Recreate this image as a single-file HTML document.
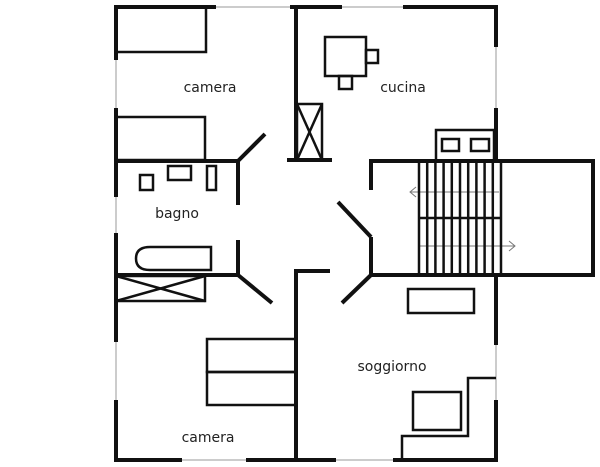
<!DOCTYPE html>
<html><head><style>body{margin:0;background:#fff}svg{display:block}text{font-family:"DejaVu Sans","Liberation Sans",sans-serif;font-size:14px;fill:#222}</style></head><body>
<svg width="600" height="467" viewBox="0 0 600 467">
<g stroke="#999" stroke-width="1" fill="none">
<line x1="216" y1="7" x2="290" y2="7"/><line x1="342" y1="7" x2="403" y2="7"/>
<line x1="496" y1="47" x2="496" y2="108"/><line x1="116" y1="60" x2="116" y2="108"/>
<line x1="116" y1="197" x2="116" y2="233"/><line x1="116" y1="342" x2="116" y2="400"/>
<line x1="182" y1="460" x2="246" y2="460"/><line x1="336" y1="460" x2="393" y2="460"/>
<line x1="496" y1="345" x2="496" y2="400"/>
</g>
<g stroke="#777" stroke-width="1" fill="none">
<line x1="410" y1="192" x2="499" y2="192"/><polyline points="416,187 410,192 416,197"/>
<line x1="419" y1="246" x2="515" y2="246"/><polyline points="509,241 515,246 509,251"/>
</g>
<g stroke="#111" stroke-width="4" fill="none" stroke-linecap="butt">
<line x1="114" y1="7" x2="216" y2="7"/><line x1="290" y1="7" x2="342" y2="7"/><line x1="403" y1="7" x2="498" y2="7"/>
<line x1="496" y1="5" x2="496" y2="47"/><line x1="496" y1="108" x2="496" y2="161"/>
<line x1="116" y1="5" x2="116" y2="60"/><line x1="116" y1="108" x2="116" y2="197"/><line x1="116" y1="233" x2="116" y2="342"/><line x1="116" y1="400" x2="116" y2="462"/>
<line x1="114" y1="460" x2="182" y2="460"/><line x1="246" y1="460" x2="336" y2="460"/><line x1="393" y1="460" x2="498" y2="460"/>
<line x1="496" y1="275" x2="496" y2="345"/><line x1="496" y1="400" x2="496" y2="462"/>
<line x1="116" y1="161" x2="238" y2="161"/><line x1="238" y1="161" x2="265" y2="134"/><line x1="238" y1="161" x2="238" y2="205"/>
<line x1="238" y1="240" x2="238" y2="275"/><line x1="116" y1="275" x2="238" y2="275"/><line x1="238" y1="275" x2="272" y2="303"/>
<line x1="296" y1="7" x2="296" y2="160"/><line x1="287" y1="160" x2="332" y2="160"/>
<line x1="296" y1="271" x2="296" y2="460"/><line x1="294" y1="271" x2="330" y2="271"/>
<line x1="371" y1="161" x2="371" y2="190"/><line x1="338" y1="202" x2="371" y2="237"/><line x1="371" y1="237" x2="371" y2="275"/><line x1="371" y1="275" x2="342" y2="303"/>
<polyline points="369,161 593,161 593,275 369,275"/>
</g>
<g stroke="#111" stroke-width="2.5" fill="none">
<rect x="116" y="7" width="90" height="45"/><rect x="116" y="117" width="89" height="43"/>
<rect x="140" y="175" width="13" height="15"/><rect x="168" y="166" width="23" height="14"/><rect x="207" y="166" width="9" height="24"/>
<path d="M150,247 H211 V270 H150 Q136,270 136,258.5 Q136,247 150,247 Z"/>
<rect x="116" y="276" width="89" height="25"/><line x1="116" y1="276" x2="205" y2="301"/><line x1="116" y1="301" x2="205" y2="276"/>
<rect x="297" y="104" width="25" height="56"/><line x1="297" y1="104" x2="322" y2="160"/><line x1="322" y1="104" x2="297" y2="160"/>
<rect x="325" y="37" width="41" height="39"/><rect x="366" y="50" width="12" height="13"/><rect x="339" y="76" width="13" height="13"/>
<rect x="436" y="130" width="58" height="31"/><rect x="442" y="139" width="17" height="12"/><rect x="471" y="139" width="18" height="12"/>
<line x1="419" y1="218" x2="501" y2="218"/>
<rect x="408" y="289" width="66" height="24"/>
<rect x="207" y="339" width="89" height="33"/><rect x="207" y="372" width="89" height="33"/>
<polyline points="496,378 468,378 468,436 402,436 402,460"/>
<rect x="413" y="392" width="48" height="38"/>
</g>
<g stroke="#111" stroke-width="2.5">
<line x1="419" y1="161" x2="419" y2="275"/><line x1="427.2" y1="161" x2="427.2" y2="275"/><line x1="435.4" y1="161" x2="435.4" y2="275"/><line x1="443.6" y1="161" x2="443.6" y2="275"/><line x1="451.8" y1="161" x2="451.8" y2="275"/><line x1="460" y1="161" x2="460" y2="275"/><line x1="468.2" y1="161" x2="468.2" y2="275"/><line x1="476.4" y1="161" x2="476.4" y2="275"/><line x1="484.6" y1="161" x2="484.6" y2="275"/><line x1="492.8" y1="161" x2="492.8" y2="275"/><line x1="501" y1="161" x2="501" y2="275"/>
</g>
<text x="210" y="92" text-anchor="middle">camera</text>
<text x="403" y="92" text-anchor="middle">cucina</text>
<text x="177" y="218" text-anchor="middle">bagno</text>
<text x="392" y="371" text-anchor="middle">soggiorno</text>
<text x="208" y="442" text-anchor="middle">camera</text>
</svg>
</body></html>
